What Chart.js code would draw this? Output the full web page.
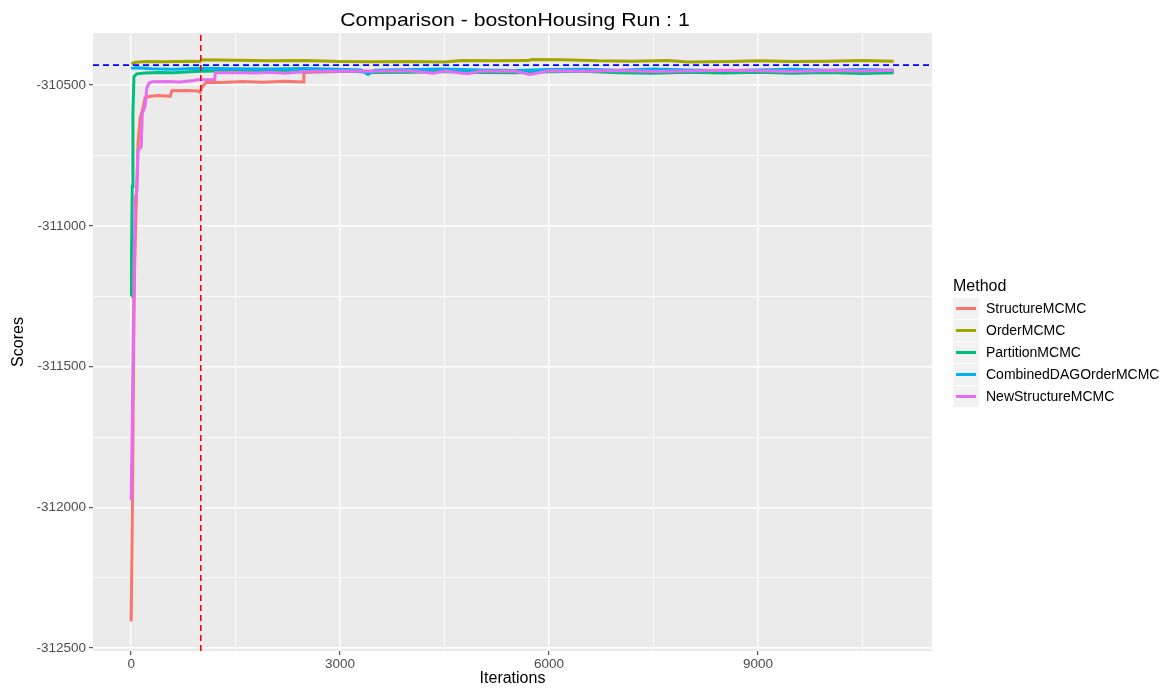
<!DOCTYPE html>
<html>
<head>
<meta charset="utf-8">
<script src="https://cdn.jsdelivr.net/npm/chart.js@4.4.1/dist/chart.umd.min.js"></script>
<style>
  body { margin: 0; background: #ffffff; }
  #wrap { position: relative; width: 1174px; height: 690px; font-family: 'Liberation Sans', Arial, sans-serif; }
  #title { position: absolute; left: 0; width: 1030px; top: 9px; text-align: center; font-size: 18px; line-height: 22px; color: #000; transform: scaleX(1.18); transform-origin: 515px 0; }
  #legend { position: absolute; left: 953px; top: 274px; color: #000; }
  #legend .ttl { font-size: 16px; height: 23px; line-height: 23px; }
  #legend .row { display: flex; align-items: center; height: 22px; }
  #legend .key { width: 26px; height: 21px; background: #f2f2f2; position: relative; margin-right: 7px; }
  #legend .key span { position: absolute; left: 3px; right: 3px; top: 9px; height: 3px; }
  #legend .lab { font-size: 14px; }
</style>
</head>
<body>
<div id="wrap">
  <canvas id="chart" width="1174" height="690"></canvas>
  <div id="title">Comparison - bostonHousing Run : 1</div>
  <div id="legend"></div>
</div>
<script>
// axis limits and ticks
const X_MIN = -548, X_MAX = 11500;
const Y_MIN = -312510, Y_MAX = -310315;
const xTicks = [0, 1500, 3000, 4500, 6000, 7500, 9000, 10500];
const xMajor = [0, 3000, 6000, 9000];
const yTicks = [-312500, -312250, -312000, -311750, -311500, -311250, -311000, -310750, -310500];
const yMajor = [-312500, -312000, -311500, -311000, -310500];

// reference lines
const refScore = -310429;
const burnIn = 1000;

const methods = ['StructureMCMC', 'OrderMCMC', 'PartitionMCMC', 'CombinedDAGOrderMCMC', 'NewStructureMCMC'];
const colors = ['#F8766D', '#A3A500', '#00BF7D', '#00B0F6', '#E76BF3'];

// StructureMCMC
const structX = [0, 20, 35, 50, 70, 100, 130, 150, 177, 200, 273, 400, 560, 585, 800, 950, 990, 1015, 1080, 1300, 1600, 1900, 2200, 2470, 2480, 3000, 3500, 4000, 4500, 5000, 5500, 6000, 6500, 7000, 7500, 8000, 8500, 9000, 9500, 10000, 10500, 10950];
const structY = [-312405, -311950, -311450, -311150, -310950, -310700, -310615, -310600, -310573, -310545, -310540, -310537, -310540, -310520, -310519, -310521, -310526, -310508, -310490, -310491, -310487, -310490, -310486, -310489, -310455, -310452, -310450, -310453, -310449, -310451, -310454, -310450, -310452, -310449, -310451, -310453, -310450, -310452, -310451, -310449, -310452, -310450];

// OrderMCMC
const orderX = [0, 60, 215, 500, 800, 990, 1010, 1500, 2000, 2500, 3000, 3500, 4000, 4500, 4750, 5200, 5700, 5750, 6200, 6700, 7200, 7700, 8000, 8600, 9000, 9500, 10000, 10500, 10950];
const orderY = [-310425, -310419, -310416, -310417, -310415, -310416, -310410, -310412, -310414, -310413, -310416, -310417, -310416, -310418, -310413, -310414, -310413, -310409, -310410, -310414, -310415, -310413, -310418, -310416, -310414, -310416, -310415, -310413, -310415];

// PartitionMCMC
const partX = [0, 5, 15, 25, 40, 80, 200, 400, 600, 900, 1200, 1500, 2000, 2500, 3000, 3500, 4000, 4500, 5000, 5500, 6000, 6500, 7000, 7500, 8000, 8500, 9000, 9500, 10000, 10500, 10950];
const partY = [-311250, -311100, -310860, -310600, -310470, -310460, -310457, -310455, -310456, -310452, -310450, -310449, -310451, -310453, -310449, -310455, -310454, -310452, -310455, -310456, -310453, -310451, -310456, -310458, -310454, -310457, -310454, -310458, -310455, -310459, -310456];

// CombinedDAGOrderMCMC
const combX = [0, 100, 300, 600, 1000, 1500, 2000, 2500, 3000, 3300, 3400, 3500, 4000, 4500, 5000, 5500, 6000, 6500, 7000, 7500, 8000, 8500, 9000, 9500, 10000, 10500, 10950];
const combY = [-310440, -310438, -310442, -310444, -310440, -310442, -310443, -310441, -310444, -310446, -310462, -310447, -310445, -310443, -310446, -310448, -310445, -310444, -310447, -310443, -310446, -310449, -310446, -310444, -310447, -310445, -310447];

// NewStructureMCMC
const newX = [0, 30, 45, 57, 80, 100, 144, 160, 201, 225, 260, 300, 500, 700, 900, 950, 1200, 1210, 1500, 1800, 2000, 2200, 2500, 3000, 3500, 4000, 4340, 4500, 4830, 5000, 5500, 5730, 6000, 6500, 7000, 7500, 8000, 8500, 9000, 9500, 10000, 10500, 10950];
const newY = [-311975, -311400, -311100, -310900, -310880, -310730, -310720, -310600, -310574, -310510, -310492, -310488, -310487, -310489, -310484, -310481, -310480, -310456, -310455, -310457, -310454, -310458, -310452, -310450, -310451, -310449, -310458, -310450, -310460, -310451, -310450, -310462, -310449, -310451, -310448, -310452, -310450, -310447, -310449, -310452, -310448, -310450, -310447];

const seriesX = [structX, orderX, partX, combX, newX];
const seriesY = [structY, orderY, partY, combY, newY];

function toPoints(xs, ys) {
    return xs.map((x, i) => ({ x: x, y: ys[i] }));
}

const datasets = methods.map((m, i) => ({
    label: m,
    data: toPoints(seriesX[i], seriesY[i]),
    borderColor: colors[i],
    borderWidth: 3,
    pointRadius: 0,
    tension: 0,
    fill: false,
    order: 10 - i
}));

datasets.push({
    label: 'ref',
    data: [{ x: X_MIN, y: refScore }, { x: X_MAX, y: refScore }],
    borderColor: '#0000FF',
    borderWidth: 1.6,
    borderDash: [6, 4],
    pointRadius: 0,
    order: 1
});
datasets.push({
    label: 'burnin',
    data: [{ x: burnIn, y: Y_MIN }, { x: burnIn, y: Y_MAX }],
    borderColor: '#FF0000',
    borderWidth: 1.6,
    borderDash: [6, 4],
    pointRadius: 0,
    order: 1
});

// fond gris du panneau
const panelBg = {
    id: 'panelBg',
    beforeDraw(chart) {
        const a = chart.chartArea;
        const ctx = chart.ctx;
        ctx.save();
        ctx.fillStyle = '#EBEBEB';
        ctx.fillRect(a.left, a.top, a.right - a.left, a.bottom - a.top);
        ctx.restore();
    }
};

Chart.defaults.font.family = "'Liberation Sans', Arial, sans-serif";

new Chart(document.getElementById('chart'), {
    type: 'line',
    data: { datasets: datasets },
    plugins: [panelBg],
    options: {
        responsive: false,
        animation: false,
        layout: { padding: { left: 0, right: 242, top: 33, bottom: 0 } },
        plugins: {
            legend: { display: false },
            tooltip: { enabled: false },
            title: { display: false }
        },
        scales: {
            x: {
                type: 'linear',
                min: X_MIN,
                max: X_MAX,
                afterBuildTicks: s => { s.ticks = xTicks.map(v => ({ value: v })); },
                afterFit: s => { s.height = 39; },
                border: { display: false },
                grid: {
                    color: '#FFFFFF',
                    lineWidth: c => xMajor.includes(c.tick.value) ? 1.4 : 0.8,
                    tickColor: c => xMajor.includes(c.tick.value) ? '#333333' : 'rgba(0,0,0,0)',
                    tickLength: 4,
                    tickWidth: 1
                },
                ticks: {
                    color: '#4D4D4D',
                    font: { size: 13.5 },
                    padding: 1,
                    maxRotation: 0,
                    autoSkip: false,
                    callback: v => xMajor.includes(v) ? String(v) : ''
                },
                title: {
                    display: true,
                    text: 'Iterations',
                    color: '#000',
                    font: { size: 16 },
                    padding: { top: 0, bottom: 2 }
                }
            },
            y: {
                type: 'linear',
                min: Y_MIN,
                max: Y_MAX,
                afterBuildTicks: s => { s.ticks = yTicks.map(v => ({ value: v })); },
                afterFit: s => { s.width = 93; },
                border: { display: false },
                grid: {
                    color: '#FFFFFF',
                    lineWidth: c => yMajor.includes(c.tick.value) ? 1.4 : 0.8,
                    tickColor: c => yMajor.includes(c.tick.value) ? '#333333' : 'rgba(0,0,0,0)',
                    tickLength: 4,
                    tickWidth: 1
                },
                ticks: {
                    color: '#4D4D4D',
                    font: { size: 13.5 },
                    padding: 3,
                    autoSkip: false,
                    callback: v => yMajor.includes(v) ? String(v) : ''
                },
                title: {
                    display: true,
                    text: 'Scores',
                    color: '#000',
                    font: { size: 16 },
                    padding: { top: 9, bottom: 4 }
                }
            }
        }
    }
});

// légende HTML
const legendEl = document.getElementById('legend');
let html = '<div class="ttl">Method</div>';
methods.forEach((m, i) => {
    html += '<div class="row"><div class="key"><span style="background:' + colors[i] + '"></span></div><div class="lab">' + m + '</div></div>';
});
legendEl.innerHTML = html;
</script>
</body>
</html>
